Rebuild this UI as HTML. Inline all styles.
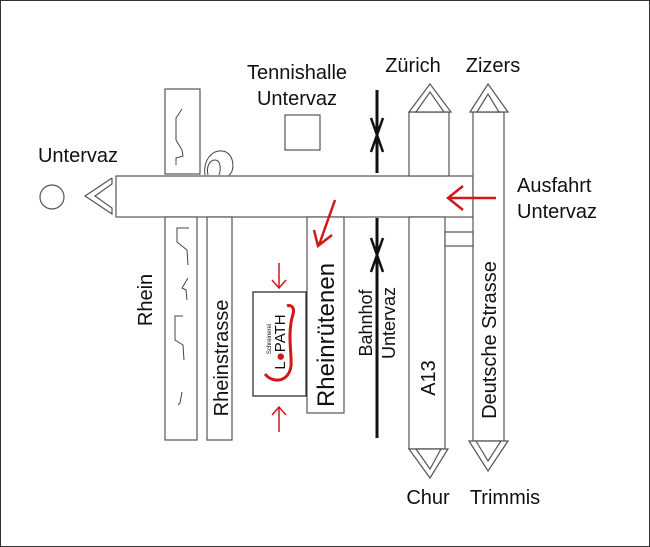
<!DOCTYPE html>
<html><head><meta charset="utf-8"><style>
html,body{margin:0;padding:0;background:#fff}
svg{display:block}
text{font-family:"Liberation Sans",sans-serif;fill:#111}
</style></head><body>
<svg width="650" height="547" viewBox="0 0 650 547" xmlns="http://www.w3.org/2000/svg">
<rect x="0.5" y="0.5" width="649" height="546" fill="#fff" stroke="#333" stroke-width="1"/>
<g fill="#fff" stroke="#555" stroke-width="1.2">
<!-- main road -->
<rect x="116" y="176" width="357" height="41"/>
<!-- A13 -->
<rect x="409" y="112" width="40" height="64"/>
<rect x="409" y="217" width="36" height="232"/>
<!-- Deutsche Strasse -->
<rect x="473" y="112" width="31" height="330"/>
<rect x="445" y="232" width="28" height="14"/>
<!-- triangles -->
<polygon points="409,112 430,84 451,112"/>
<polygon points="416,112 430,92 444,112"/>
<polygon points="470,112 488,84 508,112"/>
<polygon points="477,112 488,94 499,112"/>
<polygon points="409,449 430,478 448,449"/>
<polygon points="416,449 430,469 441,449"/>
<polygon points="469,441 488,471 508,441"/>
<polygon points="476,441 488,461 501,441"/>
<!-- left chevron -->
<polyline points="112,178 85,196 112,214 112,208 95,196 112,184 112,178"/>
<circle cx="52" cy="197" r="12"/>
<!-- blocks -->
<rect x="165" y="89" width="35" height="85"/>
<rect x="165" y="217" width="32" height="223"/>
<rect x="207" y="217" width="25" height="223"/>
<rect x="307" y="217" width="37" height="196"/>
<rect x="285" y="115" width="35" height="35"/>
<rect x="253" y="292" width="53" height="104" stroke="#222"/>
</g>
<!-- Rhein river banks -->
<g fill="none" stroke="#444" stroke-width="1">
<path d="M182,109 L176,118 L176,140 L182,150 L183,156 L176,158 L176,165"/>
<path d="M205,175 C203,160 212,150 222,151 C235,152 235,172 229,175 M208,175 C206,166 210,160 215,160 C221,160 221,170 219,175"/>
<path d="M189,228 L177,228 L177,242 L187,250 L188,265"/>
<path d="M188,278 L182,288 L186,290 L187,300"/>
<path d="M183,316 L175,316 L175,340 L183,345 L184,360"/>
<path d="M182,392 L180,403 L178,405"/>
</g>
<!-- railway -->
<g stroke="#111" stroke-width="3" fill="none">
<line x1="377" y1="90" x2="377" y2="173"/>
<line x1="377" y1="218" x2="377" y2="438"/>
<path d="M371,118 L383,152 M383,118 L371,152" stroke-width="2.5"/>
<path d="M371,238 L383,272 M383,238 L371,272" stroke-width="2.5"/>
</g>
<!-- red arrows -->
<g stroke="#d01818" stroke-width="2.5" fill="none">
<line x1="496" y1="198" x2="450" y2="198"/>
<path d="M463,186 L448,198 L463,210"/>
<line x1="335" y1="200" x2="319" y2="245"/>
<path d="M314,230 L318,246 L332,235"/>
<line x1="279" y1="263" x2="279" y2="288" stroke-width="1.5"/>
<path d="M272,280 L279,288 L286,280" stroke-width="1.5"/>
<line x1="279" y1="432" x2="279" y2="407" stroke-width="1.5"/>
<path d="M272,415 L279,407 L286,415" stroke-width="1.5"/>
</g>
<!-- logo -->
<g transform="translate(279,344) rotate(-90)">
<path d="M-30,-14 C-40,-6 -38,10 -22,12 C-10,13 10,8 30,14 C36,16 40,12 38,8" fill="none" stroke="#d01818" stroke-width="3"/>
<text x="2" y="6" font-size="15" text-anchor="middle" font-family="Liberation Serif,serif" fill="#222">L<tspan fill="#d01818">●</tspan>PATH</text>
<text x="5" y="-8" font-size="6" text-anchor="middle" font-family="Liberation Serif,serif">Schreinerei</text>
</g>
<!-- labels -->
<g font-size="20">
<text x="297" y="79" text-anchor="middle">Tennishalle</text>
<text x="297" y="105" text-anchor="middle">Untervaz</text>
<text x="413" y="72" text-anchor="middle">Zürich</text>
<text x="493" y="72" text-anchor="middle">Zizers</text>
<text x="78" y="162" text-anchor="middle">Untervaz</text>
<text x="517" y="192">Ausfahrt</text>
<text x="517" y="218">Untervaz</text>
<text x="428" y="504" text-anchor="middle">Chur</text>
<text x="505" y="504" text-anchor="middle">Trimmis</text>
<text transform="translate(152,300) rotate(-90)" text-anchor="middle">Rhein</text>
<text transform="translate(228,358) rotate(-90)" text-anchor="middle">Rheinstrasse</text>
<text transform="translate(334,335) rotate(-90)" text-anchor="middle" font-size="24">Rheinrütenen</text>
<text transform="translate(372,323) rotate(-90)" text-anchor="middle" font-size="18">Bahnhof</text>
<text transform="translate(395,323) rotate(-90)" text-anchor="middle" font-size="18">Untervaz</text>
<text transform="translate(435,378) rotate(-90)" text-anchor="middle">A13</text>
<text transform="translate(496,340) rotate(-90)" text-anchor="middle">Deutsche Strasse</text>
</g>
</svg>
</body></html>
